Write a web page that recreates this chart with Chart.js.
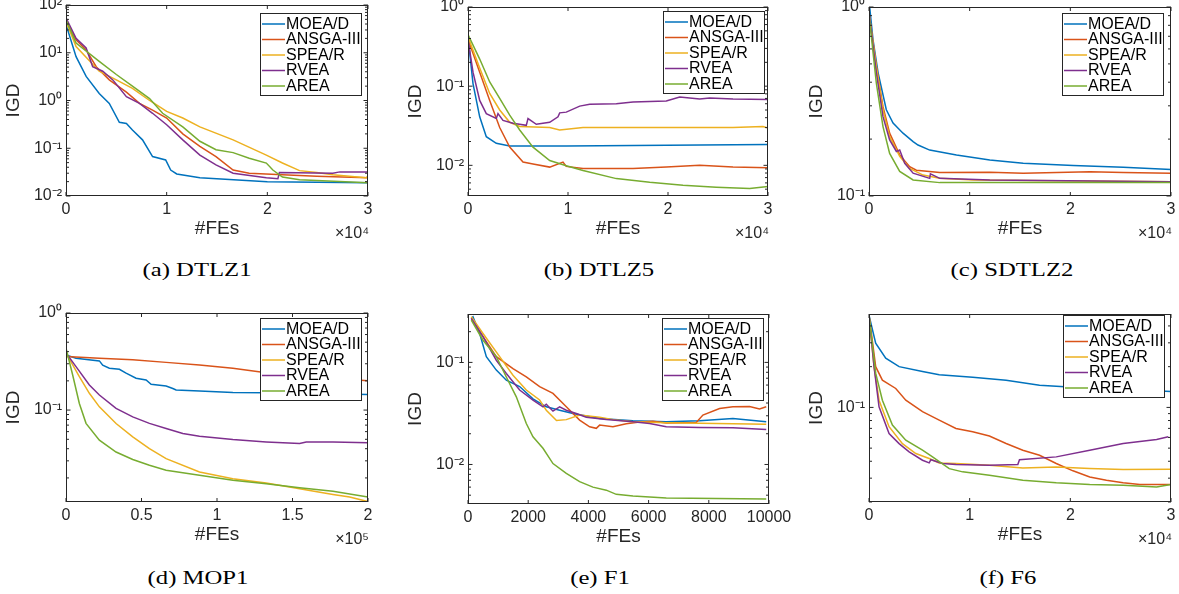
<!DOCTYPE html>
<html>
<head>
<meta charset="utf-8">
<title>IGD convergence</title>
<script src="https://cdn.jsdelivr.net/npm/chart.js@4.4.1/dist/chart.umd.min.js"></script>
<style>
  body { margin: 0; width: 1179px; height: 594px; overflow: hidden; background: #fff; position: relative; }
  canvas { position: absolute; }
  .cap { position: absolute; font-family: "Liberation Serif", "Times New Roman", serif; font-size: 19px;
         color: #000; white-space: nowrap; transform: translateX(-50%) scaleX(1.3); }
</style>
</head>
<body>
<div class="cap" style="left:197px;top:259px">(a) DTLZ1</div>
<div class="cap" style="left:599px;top:259px">(b) DTLZ5</div>
<div class="cap" style="left:1012px;top:259px">(c) SDTLZ2</div>
<div class="cap" style="left:198px;top:567px">(d) MOP1</div>
<div class="cap" style="left:600px;top:567px">(e) F1</div>
<div class="cap" style="left:1008px;top:567px">(f) F6</div>

<script>
// algorithms and their matlab colours
const algorithms = ['MOEA/D', 'ANSGA-III', 'SPEA/R', 'RVEA', 'AREA'];
const line_colors = ['#0072BD', '#D95319', '#EDB120', '#7E2F8E', '#77AC30'];

// tick values / labels
const fe_ticks_3e4 = [0, 10000, 20000, 30000];
const fe_labels_3e4 = ['0', '1', '2', '3'];
const fe_ticks_2e5 = [0, 50000, 100000, 150000, 200000];
const fe_labels_2e5 = ['0', '0.5', '1', '1.5', '2'];
const fe_ticks_1e4 = [0, 2000, 4000, 6000, 8000, 10000];
const fe_labels_1e4 = ['0', '2000', '4000', '6000', '8000', '10000'];

// (a) DTLZ1  [FEs, IGD]
const dtlz1_moead = [[0,39],[1000,8.3],[2000,3.2],[3300,1.4],[4300,0.87],[5300,0.35],[6000,0.33],[6600,0.24],[7600,0.15],[8600,0.067],[9900,0.057],[10400,0.035],[11000,0.029],[13300,0.024],[20000,0.020],[30000,0.019]];
const dtlz1_ansga = [[0,49],[1000,18.6],[2000,11.5],[3000,5.1],[4300,2.7],[6000,1.5],[7300,0.87],[8600,0.63],[10000,0.43],[11600,0.2],[13300,0.11],[14900,0.067],[16600,0.035],[18200,0.030],[21500,0.028],[24900,0.026],[30000,0.024]];
const dtlz1_spear = [[0,45],[1000,13.5],[3300,4.1],[5000,2.7],[6600,1.8],[8300,1.0],[10000,0.59],[11600,0.43],[13300,0.28],[16600,0.15],[19900,0.072],[21500,0.049],[23200,0.034],[24900,0.031],[26500,0.028],[29800,0.024],[30000,0.026]];
const dtlz1_rvea = [[0,54],[1000,20],[2000,12.6],[2650,5.1],[3650,4.1],[4650,2.7],[6000,1.2],[7300,0.87],[8600,0.54],[10000,0.31],[11600,0.15],[13300,0.072],[14900,0.045],[16600,0.030],[19900,0.024],[21050,0.023],[21200,0.031],[26500,0.030],[27200,0.032],[30000,0.032]];
const dtlz1_area = [[0,49],[1000,16],[3300,6.6],[5000,3.5],[6600,2.0],[8300,1.1],[9600,0.54],[11600,0.28],[13300,0.14],[14900,0.093],[16600,0.081],[18200,0.062],[19900,0.049],[20550,0.035],[21500,0.025],[23200,0.022],[30000,0.019]];

// (b) DTLZ5
const dtlz5_moead = [[0,0.42],[500,0.108],[1170,0.041],[1830,0.023],[2830,0.019],[4170,0.0175],[9830,0.0176],[30000,0.0184]];
const dtlz5_ansga = [[0,0.39],[1170,0.15],[2170,0.066],[3170,0.030],[4170,0.017],[5500,0.011],[6500,0.0104],[8170,0.0095],[9500,0.011],[9830,0.0097],[11500,0.0091],[16500,0.0091],[19830,0.0095],[23170,0.010],[26500,0.0095],[30000,0.0093]];
const dtlz5_spear = [[0,0.42],[1170,0.17],[2170,0.081],[3170,0.050],[4170,0.035],[5170,0.031],[8170,0.030],[9170,0.028],[11500,0.030],[16500,0.030],[26500,0.030],[29500,0.031],[30000,0.0297]];
const dtlz5_rvea = [[0,0.39],[500,0.15],[1170,0.066],[1830,0.045],[2830,0.039],[3000,0.045],[3500,0.037],[4500,0.034],[5830,0.032],[6000,0.039],[6830,0.033],[8170,0.035],[9000,0.041],[9170,0.046],[9830,0.047],[11170,0.056],[12170,0.059],[14830,0.060],[16500,0.063],[19830,0.065],[21170,0.073],[23170,0.069],[24170,0.071],[26500,0.069],[30000,0.068]];
const dtlz5_area = [[0,0.45],[1170,0.22],[2170,0.113],[3170,0.070],[4170,0.043],[5170,0.028],[6500,0.017],[8170,0.0115],[9830,0.0099],[11500,0.0086],[14830,0.0068],[18170,0.0061],[21500,0.0056],[24830,0.0053],[28170,0.0051],[30000,0.0054]];

// (c) SDTLZ2
const sdtlz2_moead = [[0,1.15],[66,1.0],[400,0.67],[900,0.45],[1720,0.286],[2390,0.243],[3380,0.215],[4380,0.194],[4870,0.186],[6030,0.175],[8690,0.165],[12000,0.155],[15320,0.149],[20290,0.145],[25260,0.142],[30000,0.138]];
const sdtlz2_ansga = [[0,0.91],[730,0.485],[1390,0.297],[2050,0.215],[3050,0.165],[4040,0.143],[4710,0.137],[7030,0.133],[12000,0.1335],[15320,0.132],[21950,0.1345],[25260,0.133],[30000,0.132]];
const sdtlz2_spear = [[0,0.93],[730,0.485],[1390,0.286],[2050,0.206],[3050,0.162],[4040,0.140],[5370,0.129],[7030,0.124],[10340,0.1216],[30000,0.119]];
const sdtlz2_rvea = [[0,0.93],[730,0.45],[1390,0.263],[2050,0.198],[2720,0.172],[3050,0.175],[3550,0.149],[4380,0.132],[6030,0.124],[6100,0.131],[7030,0.124],[12000,0.1216],[30000,0.119]];
const sdtlz2_area = [[0,0.91],[730,0.395],[1390,0.233],[2050,0.168],[3050,0.135],[4380,0.1216],[7030,0.1177],[30000,0.1177]];

// (d) MOP1
const mop1_moead = [[0,0.37],[6630,0.342],[22100,0.321],[24300,0.29],[28700,0.27],[35360,0.263],[39780,0.24],[46400,0.213],[53040,0.204],[56360,0.184],[66300,0.177],[70720,0.167],[72930,0.161],[88400,0.157],[110500,0.152],[132600,0.151],[200000,0.145]];
const mop1_ansga = [[0,0.356],[22100,0.342],[44200,0.329],[66300,0.31],[88400,0.292],[110500,0.27],[132600,0.243],[154700,0.231],[176800,0.213],[200000,0.2]];
const mop1_spear = [[0,0.387],[8840,0.221],[15470,0.149],[22100,0.108],[33150,0.0728],[44200,0.053],[55250,0.040],[66300,0.0316],[88400,0.023],[110500,0.0196],[132600,0.0177],[154700,0.0155],[176800,0.0135],[187850,0.0127],[200000,0.0114]];
const mop1_rvea = [[0,0.387],[6630,0.28],[15470,0.181],[22100,0.143],[33150,0.104],[44200,0.085],[55250,0.073],[66300,0.0646],[77350,0.0574],[88400,0.0538],[110500,0.0497],[132600,0.047],[154700,0.0452],[159100,0.047],[176800,0.047],[200000,0.046]];
const mop1_area = [[0,0.435],[4420,0.23],[8840,0.117],[13260,0.073],[22100,0.049],[33150,0.037],[44200,0.031],[55250,0.027],[66300,0.024],[88400,0.0213],[110500,0.0189],[132600,0.0174],[154700,0.0158],[176800,0.0146],[200000,0.0127]];

// (e) F1
const f1_moead = [[110,0.27],[166,0.28],[388,0.192],[609,0.114],[941,0.084],[1273,0.067],[1716,0.058],[2159,0.044],[2601,0.0367],[3044,0.034],[3487,0.0316],[4373,0.0282],[5480,0.0268],[6587,0.0262],[7694,0.0268],[8801,0.0282],[9908,0.0262]];
const f1_ansga = [[110,0.27],[498,0.179],[941,0.114],[1494,0.087],[1937,0.072],[2380,0.058],[2823,0.0497],[3266,0.0367],[3708,0.0272],[4041,0.0234],[4262,0.0226],[4373,0.0243],[4815,0.0234],[5258,0.025],[5701,0.026],[6144,0.0265],[6587,0.0255],[7140,0.0257],[7583,0.0258],[7804,0.0305],[8358,0.0354],[8801,0.0367],[9354,0.037],[9686,0.035],[9908,0.0367]];
const f1_spear = [[110,0.28],[498,0.192],[1052,0.114],[1494,0.075],[1937,0.0536],[2380,0.0428],[2601,0.034],[2940,0.027],[3266,0.0275],[3708,0.0305],[4373,0.029],[4926,0.0272],[5480,0.0262],[6587,0.0256],[7694,0.0253],[9908,0.0248]];
const f1_rvea = [[110,0.27],[498,0.179],[941,0.105],[1273,0.078],[1716,0.0536],[2159,0.0428],[2491,0.0367],[2601,0.039],[2823,0.0333],[3044,0.0367],[3266,0.034],[3598,0.0316],[3930,0.029],[4594,0.0276],[5480,0.0262],[6033,0.0252],[6587,0.0234],[7694,0.023],[8801,0.0229],[9908,0.022]];
const f1_area = [[110,0.26],[498,0.165],[941,0.114],[1273,0.072],[1605,0.046],[1937,0.0252],[2159,0.0187],[2491,0.0144],[2823,0.0102],[3266,0.0082],[3708,0.0068],[4151,0.006],[4594,0.0056],[4926,0.0051],[5480,0.0049],[6587,0.0047],[9908,0.0046]];

// (f) F6
const f6_moead = [[0,0.48],[664,0.298],[1661,0.231],[2990,0.2],[5315,0.184],[6976,0.174],[10298,0.167],[13620,0.159],[16942,0.146],[20264,0.141],[25247,0.136],[30000,0.131]];
const f6_ansga = [[0,0.48],[664,0.2],[1329,0.159],[2658,0.138],[3654,0.113],[5315,0.093],[6976,0.0805],[8637,0.0698],[10298,0.066],[11959,0.0614],[13620,0.0541],[15281,0.0483],[16942,0.0443],[18603,0.0385],[20264,0.034],[21925,0.0306],[23586,0.029],[25247,0.0277],[26908,0.0269],[30000,0.0269]];
const f6_spear = [[0,0.48],[500,0.2],[997,0.113],[1993,0.072],[3322,0.054],[4651,0.0456],[5980,0.0419],[6976,0.0389],[8637,0.0385],[11959,0.0374],[15281,0.0357],[18603,0.0363],[21925,0.0353],[25247,0.0347],[30000,0.0349]];
const f6_rvea = [[0,0.48],[500,0.2],[997,0.101],[1993,0.064],[2990,0.054],[3986,0.047],[5315,0.0407],[5980,0.0389],[6146,0.0411],[7308,0.0385],[8637,0.0378],[11959,0.0374],[14783,0.0378],[14949,0.0411],[18603,0.0431],[21925,0.0483],[25247,0.0541],[28569,0.058],[29732,0.0607]];
const f6_area = [[0,0.48],[664,0.179],[1329,0.113],[2325,0.074],[3654,0.0573],[5315,0.0483],[6312,0.0431],[7973,0.0353],[9302,0.0334],[11959,0.0315],[15281,0.029],[18603,0.0277],[21925,0.0269],[25247,0.0266],[28569,0.0258],[30000,0.0269]];

const font_family = '"Liberation Sans", Arial, Helvetica, sans-serif';
const axis_color = '#262626';

const panels = [
    {L: 66, T: 5, R: 368, B: 196, xMax: 30000, xTicks: fe_ticks_3e4, xLabels: fe_labels_3e4, xExp: '×10⁴',
     yMin: 0.01, yMax: 100, yTicks: [0.01, 0.1, 1, 10, 100], yLabels: ['10⁻²', '10⁻¹', '10⁰', '10¹', '10²'],
     series: [dtlz1_moead, dtlz1_ansga, dtlz1_spear, dtlz1_rvea, dtlz1_area], legR: 7, legT: 8},
    {L: 468, T: 7, R: 768, B: 196, xMax: 30000, xTicks: fe_ticks_3e4, xLabels: fe_labels_3e4, xExp: '×10⁴',
     yMin: 0.0041, yMax: 1, yTicks: [0.01, 0.1, 1], yLabels: ['10⁻²', '10⁻¹', '10⁰'],
     series: [dtlz5_moead, dtlz5_ansga, dtlz5_spear, dtlz5_rvea, dtlz5_area], legR: 4, legT: 4},
    {L: 869, T: 7, R: 1171, B: 196, xMax: 30000, xTicks: fe_ticks_3e4, xLabels: fe_labels_3e4, xExp: '×10⁴',
     yMin: 0.1, yMax: 1, yTicks: [0.1, 1], yLabels: ['10⁻¹', '10⁰'],
     series: [sdtlz2_moead, sdtlz2_ansga, sdtlz2_spear, sdtlz2_rvea, sdtlz2_area], legR: 8, legT: 6},
    {L: 66, T: 313, R: 368, B: 502, xMax: 200000, xTicks: fe_ticks_2e5, xLabels: fe_labels_2e5, xExp: '×10⁵',
     yMin: 0.0113, yMax: 1, yTicks: [0.1, 1], yLabels: ['10⁻¹', '10⁰'],
     series: [mop1_moead, mop1_ansga, mop1_spear, mop1_rvea, mop1_area], legR: 7, legT: 5},
    {L: 468, T: 314, R: 769, B: 504, xMax: 10000, xTicks: fe_ticks_1e4, xLabels: fe_labels_1e4, xExp: '',
     yMin: 0.0041, yMax: 0.298, yTicks: [0.01, 0.1], yLabels: ['10⁻²', '10⁻¹'],
     series: [f1_moead, f1_ansga, f1_spear, f1_rvea, f1_area], legR: 6, legT: 4},
    {L: 869, T: 314, R: 1171, B: 502, xMax: 30000, xTicks: fe_ticks_3e4, xLabels: fe_labels_3e4, xExp: '×10⁴',
     yMin: 0.02, yMax: 0.49, yTicks: [0.1], yLabels: ['10⁻¹'],
     series: [f6_moead, f6_ansga, f6_spear, f6_rvea, f6_area], legR: 7, legT: 1},
];

// box, inward ticks, legend inside the axes and the x exponent - matlab style
const matlab_axes = {
    id: 'matlabAxes',
    afterDatasetsDraw(chart, args, opts) {
        const ctx = chart.ctx;
        const a = chart.chartArea;
        const xs = chart.scales.x, ys = chart.scales.y;
        ctx.save();
        ctx.strokeStyle = axis_color;
        ctx.lineWidth = 1;
        ctx.beginPath();
        xs.ticks.forEach(t => {
            const px = xs.getPixelForValue(t.value);
            ctx.moveTo(px, a.bottom); ctx.lineTo(px, a.bottom - 4);
            ctx.moveTo(px, a.top); ctx.lineTo(px, a.top + 4);
        });
        const lo = Math.floor(Math.log10(ys.min)), hi = Math.ceil(Math.log10(ys.max));
        for (let e = lo; e <= hi; e++) {
            for (let m = 1; m < 10; m++) {
                const v = m * Math.pow(10, e);
                if (v < ys.min * 0.999 || v > ys.max * 1.001) continue;
                const py = ys.getPixelForValue(v);
                const len = m === 1 ? 4.5 : 3;
                ctx.moveTo(a.left, py); ctx.lineTo(a.left + len, py);
                ctx.moveTo(a.right, py); ctx.lineTo(a.right - len, py);
            }
        }
        ctx.stroke();
        ctx.strokeRect(a.left + 0.5, a.top + 0.5, a.right - a.left - 1, a.bottom - a.top - 1);

        // legend
        const bw = 101, bh = 82;
        const bx = a.right - opts.legR - bw, by = a.top + opts.legT;
        ctx.fillStyle = '#fff';
        ctx.fillRect(bx, by, bw, bh);
        ctx.strokeStyle = axis_color;
        ctx.strokeRect(bx + 0.5, by + 0.5, bw, bh);
        ctx.font = '16px ' + font_family;
        ctx.textBaseline = 'middle';
        ctx.textAlign = 'left';
        chart.data.datasets.forEach((ds, i) => {
            const ry = by + 11 + i * 15.5;
            ctx.strokeStyle = ds.borderColor;
            ctx.lineWidth = 1.5;
            ctx.beginPath();
            ctx.moveTo(bx + 2, ry); ctx.lineTo(bx + 25, ry);
            ctx.stroke();
            ctx.fillStyle = '#000';
            ctx.fillText(ds.label, bx + 26, ry + 0.5);
        });

        if (opts.xExp) {
            ctx.fillStyle = axis_color;
            ctx.font = '16px ' + font_family;
            ctx.textAlign = 'right';
            ctx.fillText(opts.xExp, a.right + 1, a.bottom + 38);
        }
        ctx.restore();
    }
};

function make_panel(p) {
    const w = p.R - p.L + 66 + 30;
    const h = p.B - p.T + 10 + 48;
    const cvs = document.createElement('canvas');
    cvs.width = w;
    cvs.height = h;
    cvs.style.left = (p.L - 66) + 'px';
    cvs.style.top = (p.T - 10) + 'px';
    document.body.appendChild(cvs);

    const tick_font = {family: font_family, size: 16};
    const title_font = {family: font_family, size: 19};
    new Chart(cvs, {
        type: 'line',
        data: {
            datasets: algorithms.map((name, i) => ({
                label: name,
                data: p.series[i].map(d => ({x: d[0], y: d[1]})),
                borderColor: line_colors[i],
                borderWidth: 1.5,
                pointRadius: 0,
                fill: false,
                order: 5 - i,
            }))
        },
        options: {
            responsive: false,
            animation: false,
            devicePixelRatio: 1,
            layout: {padding: {top: 10, right: 30, left: 0, bottom: 0}},
            plugins: {
                legend: {display: false},
                tooltip: {enabled: false},
                matlabAxes: {legR: p.legR, legT: p.legT, xExp: p.xExp},
            },
            scales: {
                x: {
                    type: 'linear', min: 0, max: p.xMax,
                    grid: {display: false, drawTicks: false},
                    border: {display: false},
                    afterBuildTicks: s => { s.ticks = p.xTicks.map(v => ({value: v})); },
                    afterFit: s => { s.height = 48; s.paddingLeft = 0; s.paddingRight = 0; },
                    ticks: {callback: (v, i) => p.xLabels[i], padding: 4, font: tick_font, color: axis_color,
                            maxRotation: 0, autoSkip: false},
                    title: {display: true, text: '#FEs', font: title_font, color: axis_color,
                            padding: {top: 0, bottom: 4}},
                },
                y: {
                    type: 'logarithmic', min: p.yMin, max: p.yMax,
                    grid: {display: false, drawTicks: false},
                    border: {display: false},
                    afterBuildTicks: s => { s.ticks = p.yTicks.map(v => ({value: v})); },
                    afterFit: s => { s.width = 66; s.paddingTop = 0; s.paddingBottom = 0; },
                    ticks: {callback: (v, i) => p.yLabels[i], padding: 4, font: tick_font, color: axis_color,
                            autoSkip: false},
                    title: {display: true, text: 'IGD', font: title_font, color: axis_color,
                            padding: {top: 2, bottom: 0}},
                }
            }
        },
        plugins: [matlab_axes]
    });
}

document.addEventListener('DOMContentLoaded', () => {
    panels.forEach(make_panel);
});
</script>
</body>
</html>
